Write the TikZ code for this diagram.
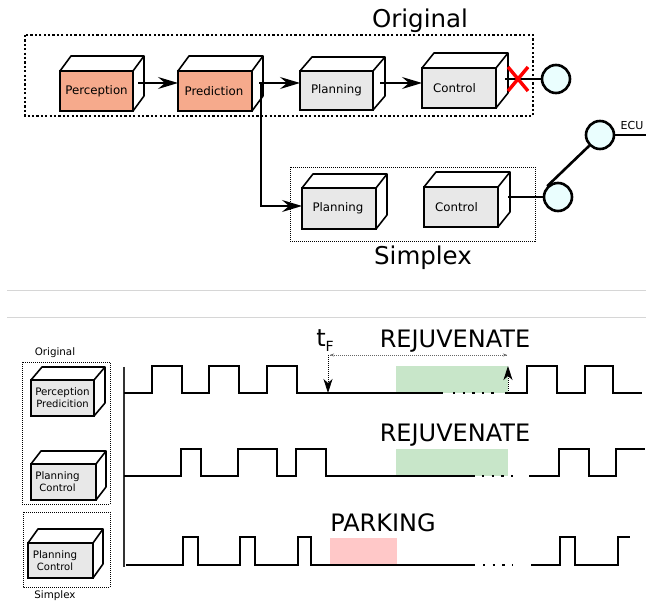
\documentclass[tikz,border=0pt]{standalone}
\usepackage{fontspec}
\setmainfont{DejaVu Sans}
\usetikzlibrary{arrows.meta,backgrounds,calc}

\definecolor{salmon}{HTML}{F6AA8C}
\definecolor{boxgray}{HTML}{E8E8E8}
\definecolor{portcyan}{HTML}{EAFEFE}
\definecolor{rejgreen}{HTML}{C8E6C9}
\definecolor{parkpink}{HTML}{FFC8C8}
\definecolor{rulegray}{HTML}{D6D6D6}

\tikzset{
  front/.style={draw, line width=2.5pt, outer sep=0pt, inner sep=0pt},
  boxtext/.style={align=center, inner sep=0pt},
  depthface/.style={draw, fill=white, line width=1.6pt, line join=round},
  flow/.style={line width=1.3pt, -{Stealth[length=20pt,width=12pt,inset=7pt]}},
  wire/.style={line width=2.6pt},
  port/.style={circle, draw, line width=2.6pt, fill=portcyan, minimum size=28pt, inner sep=0pt},
  bigframe/.style={line width=2.2pt, dash pattern=on 2.2pt off 2.2pt},
  thinframe/.style={line width=0.9pt, dash pattern=on 1pt off 1pt},
  title/.style={font=\fontsize{24.5}{26}\selectfont, inner sep=0pt},
  state/.style={font=\fontsize{24}{26}\selectfont, inner sep=0pt},
  small/.style={font=\fontsize{10.3}{12}\selectfont, inner sep=0pt},
  wave/.style={line width=2.2pt, line join=miter},
  gap/.style={line width=2.2pt, dash pattern=on 2.4pt off 7.2pt},
  axisline/.style={line width=1.1pt, black!80},
  guide/.style={line width=0.8pt, black!60, dash pattern=on 1pt off 1pt},
  guidetip/.style={-{Stealth[length=14pt,width=9pt,inset=4pt]}},
}

% 3D box: front face as a node, top and side faces behind it, label inside
% #1 name, #2 centre, #3 width, #4 height, #5 fill, #6/#7 depth offset, #8 text, #9 text shift
\newcommand\cubebox[9]{%
  \node[front, fill=#5, minimum width=#3, minimum height=#4] (#1) at #2 {};
  \node[boxtext] (#1-text) at ([xshift=#9]#1.center) {#8};
  \begin{scope}[on background layer]
    \draw[depthface] (#1.north west) -- ++(#6,#7) -- ($(#1.north east)+(#6,#7)$)
      -- ($(#1.south east)+(#6,#7)$) -- (#1.south east) -- (#1.north east) -- cycle;
    \draw[depthface] (#1.north east) -- ++(#6,#7);
  \end{scope}}

\begin{document}
\begin{tikzpicture}[x=1pt,y=-1pt]
\useasboundingbox (0,0) rectangle (646,601);

% ---------------- pipeline: original chain ----------------
\draw[bigframe] (25,35) rectangle (533,116);
\node[title] (origtitle) at (420,21) {Original};

\cubebox{perc}{(96.5,91)}{73pt}{40pt}{salmon}{11}{-15}{\fontsize{11.8}{13}\selectfont Perception}{0pt}
\cubebox{pred}{(215,91)}{74pt}{40pt}{salmon}{11}{-15}{\fontsize{11.8}{13}\selectfont Prediction}{-1pt}
\cubebox{plan}{(336.5,90.5)}{73pt}{39pt}{boxgray}{12}{-14}{\fontsize{11.8}{13}\selectfont Planning}{0pt}
\cubebox{ctrl}{(459,88)}{74pt}{40pt}{boxgray}{12}{-15}{\fontsize{11.8}{13}\selectfont Control}{-4.5pt}

\path ([shift={(5,-8)}]perc.east) coordinate (a1);
\path ([shift={(7,-8)}]pred.east) coordinate (a2);
\path ([shift={(9,-8)}]pred.east) coordinate (a2b);
\path ([shift={(7,-7.5)}]plan.east) coordinate (a3);
\draw[flow] (a1) -- (a1 -| pred.west);
\draw[flow] (a2) -- (a2 -| plan.west);
\draw[flow] (a3) -- (a3 -| ctrl.west);

\node[port] (c1) at (556,79) {};
\path ([shift={(9,-9)}]ctrl.east) coordinate (o1);
\draw[wire] (o1) -- (c1.west);
\coordinate (cut) at (518,79);
\draw[red, line width=3.4pt] ([shift={(-10,-12)}]cut) -- ([shift={(10,12)}]cut)
                             ([shift={(-10,12)}]cut) -- ([shift={(10,-12)}]cut);

% ---------------- pipeline: simplex chain ----------------
\draw[thinframe] (290,167) rectangle (535,241);
\node[title] (simtitle) at (423,258) {Simplex};

\cubebox{splan}{(339,208.5)}{74pt}{41pt}{boxgray}{11}{-14}{\fontsize{11.8}{13}\selectfont Planning}{-1pt}
\cubebox{sctrl}{(461,207)}{74pt}{40pt}{boxgray}{12}{-15}{\fontsize{11.8}{13}\selectfont Control}{-4.5pt}

\draw[flow] (a2b) |- ([yshift=2.5pt]splan.west);

\node[port] (c2) at (558,197) {};
\node[port] (c3) at (600,135) {};
\path ([shift={(10,-10)}]sctrl.east) coordinate (o2);
\draw[wire] (o2) -- (c2.west);
\draw[wire] (c2.135) -- (c3.225);
\coordinate (ecuend) at (646,135);
\draw[wire] (c3.east) -- (ecuend);
\node[font=\fontsize{11}{12}\selectfont, inner sep=0pt] (ecu) at (632,126) {ECU};

% ---------------- separators ----------------
\coordinate (r1a) at (7,291);  \coordinate (r1b) at (646,291);
\coordinate (r2a) at (7,318);  \coordinate (r2b) at (646,318);
\draw[rulegray, line width=1pt] (r1a) -- (r1b) (r2a) -- (r2b);

% ---------------- timing: task groups ----------------
\node[small] (origsmall) at (55,353) {Original};
\draw[thinframe] (22,362) rectangle (110,504);
\draw[thinframe] (23,512) rectangle (110,587);
\node[small] (simsmall) at (55,596) {Simplex};

\cubebox{tpp}{(62.5,398)}{63pt}{36pt}{boxgray}{11}{-13}{\fontsize{10.3}{12.5}\selectfont Perception\\Predicition}{0pt}
\cubebox{tpc}{(63.5,482)}{65pt}{36pt}{boxgray}{10}{-13}{\fontsize{10.3}{12.5}\selectfont Planning\\Control}{-6pt}
\cubebox{spc}{(60.5,560.5)}{65pt}{35pt}{boxgray}{10}{-14}{\fontsize{10.3}{12.5}\selectfont Planning\\Control}{-5.5pt}

% ---------------- timing: shaded intervals ----------------
\fill[rejgreen] (396,366) rectangle (508,393);
\fill[rejgreen] (396,449) rectangle (508,476);
\fill[parkpink] (330,538) rectangle (397,565);

\node[state] (rej1) at (455,341) {REJUVENATE};
\node[state] (rej2) at (455,435) {REJUVENATE};
\node[state] (park) at (383,523) {PARKING};

% ---------------- timing: axis and signals ----------------
\coordinate (axtop) at (124,367);
\coordinate (axbot) at (124,567);
\draw[axisline] (axtop) -- (axbot);

% first row
\draw[wave] (124,393) -- (152,393) -- (152,366) -- (182,366) -- (182,393) -- (209,393)
  -- (209,366) -- (239,366) -- (239,393) -- (267,393) -- (267,366) -- (297,366)
  -- (297,393) -- (443,393);
\draw[gap] (453,393) -- (495,393);
\draw[wave] (505,393) -- (527,393) -- (527,366) -- (557,366) -- (557,393) -- (585,393)
  -- (585,366) -- (613,366) -- (613,393) -- (642,393);

% second row
\draw[wave] (124,476) -- (181,476) -- (181,449) -- (201,449) -- (201,476) -- (238,476)
  -- (238,449) -- (277,449) -- (277,476) -- (296,476) -- (296,449) -- (326,449)
  -- (326,476) -- (475,476);
\draw[gap] (482,476) -- (513,476);
\draw[wave] (529,476) -- (559,476) -- (559,449) -- (589,449) -- (589,476) -- (616,476)
  -- (616,449) -- (645,449);

% third row
\draw[wave] (126,565) -- (183,565) -- (183,537) -- (198,537) -- (198,565) -- (240,565)
  -- (240,537) -- (255,537) -- (255,565) -- (298,565) -- (298,537) -- (311,537)
  -- (311,565) -- (475,565);
\draw[gap] (483,565) -- (513,565);
\draw[wave] (531,565) -- (560,565) -- (560,537) -- (575,537) -- (575,565) -- (618,565)
  -- (618,537) -- (630,537);

% ---------------- timing: fault and recovery markers ----------------
\node[inner sep=0pt] (tflbl) at (325,341)
  {\fontsize{24}{24}\selectfont t\raisebox{-5pt}{\fontsize{14}{14}\selectfont F}};
\coordinate (tftop) at (328,355);
\coordinate (tfbase) at (328,393);
\coordinate (rngl) at (330,355);
\coordinate (rngr) at (507,355);
\coordinate (rejbase) at (508,393);
\coordinate (rejtop) at (508,366);
\draw[guide] (rngl) -- (rngr);
\draw[black!60, line width=0.5pt, -{Stealth[length=4pt,width=3pt]}] ([xshift=3pt]rngl) -- (rngl);
\draw[black!60, line width=0.5pt, -{Stealth[length=4pt,width=3pt]}] ([xshift=-3pt]rngr) -- (rngr);
\draw[guide, guidetip, black] (tftop) -- (tfbase);
\draw[guide, guidetip, black] (rejbase) -- (rejtop);

\end{tikzpicture}
\end{document}
